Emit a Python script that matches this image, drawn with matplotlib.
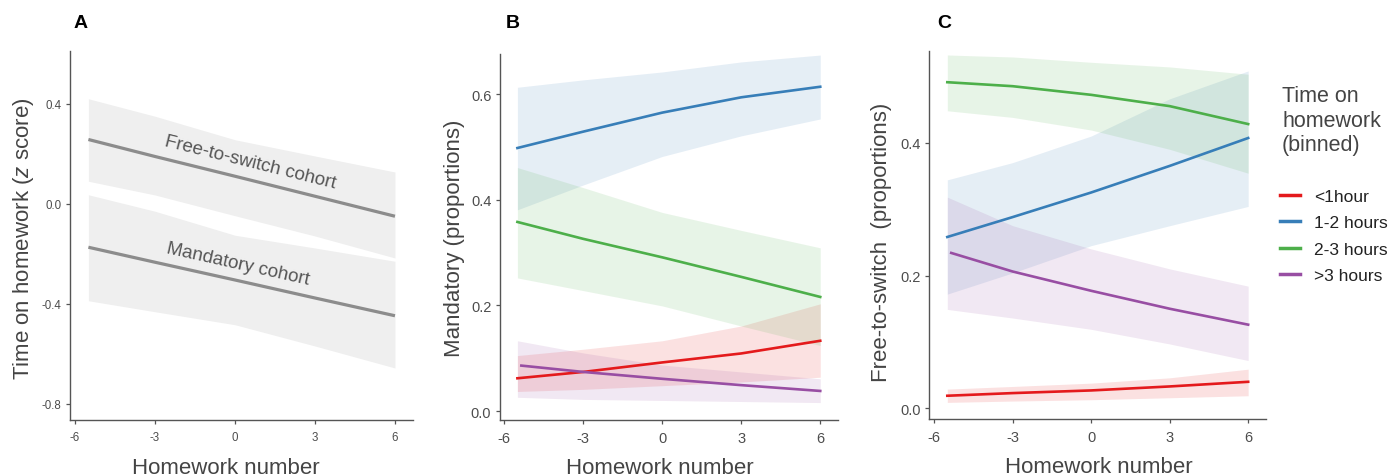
import numpy as np
import matplotlib
matplotlib.use("Agg")
import matplotlib.pyplot as plt
from matplotlib.lines import Line2D

plt.rcParams['font.family'] = ['Liberation Sans', 'DejaVu Sans']
plt.rcParams['axes.unicode_minus'] = False
plt.rcParams['mathtext.fontset'] = 'custom'
plt.rcParams['mathtext.it'] = 'Liberation Sans:italic'
plt.rcParams['mathtext.rm'] = 'Liberation Sans'

# homework number (centred)
hw = [-5.5, -3, 0, 3, 6]
hw_purple = [-5.35, -3, 0, 3, 6]

# panel A: z-scored time on homework per cohort
free_fit = [0.258, 0.19, 0.111, 0.031, -0.049]
free_lo = [0.091, 0.036, -0.047, -0.128, -0.216]
free_hi = [0.421, 0.351, 0.257, 0.192, 0.128]
mand_fit = [-0.173, -0.233, -0.304, -0.376, -0.447]
mand_lo = [-0.387, -0.431, -0.483, -0.568, -0.656]
mand_hi = [0.037, -0.029, -0.125, -0.176, -0.229]

# panel B: mandatory cohort, proportions per bin
b_red = [0.062, 0.074, 0.092, 0.109, 0.133]
b_red_lo = [0.037, 0.041, 0.048, 0.055, 0.064]
b_red_hi = [0.105, 0.117, 0.133, 0.161, 0.203]
b_blue = [0.498, 0.529, 0.565, 0.594, 0.614]
b_blue_lo = [0.381, 0.428, 0.482, 0.521, 0.553]
b_blue_hi = [0.613, 0.627, 0.642, 0.661, 0.674]
b_green = [0.358, 0.326, 0.291, 0.254, 0.216]
b_green_lo = [0.252, 0.228, 0.199, 0.161, 0.124]
b_green_hi = [0.461, 0.423, 0.376, 0.342, 0.309]
b_purple = [0.086, 0.074, 0.061, 0.049, 0.038]
b_purple_lo = [0.026, 0.022, 0.020, 0.018, 0.016]
b_purple_hi = [0.133, 0.110, 0.087, 0.074, 0.061]

# panel C: free-to-switch cohort
c_red = [0.019, 0.023, 0.027, 0.033, 0.040]
c_red_lo = [0.009, 0.011, 0.013, 0.016, 0.019]
c_red_hi = [0.029, 0.033, 0.038, 0.046, 0.059]
c_blue = [0.258, 0.288, 0.325, 0.365, 0.407]
c_blue_lo = [0.172, 0.204, 0.245, 0.275, 0.304]
c_blue_hi = [0.344, 0.370, 0.410, 0.466, 0.508]
c_green = [0.491, 0.485, 0.472, 0.455, 0.428]
c_green_lo = [0.448, 0.438, 0.419, 0.390, 0.354]
c_green_hi = [0.532, 0.529, 0.521, 0.514, 0.503]
c_purple = [0.234, 0.206, 0.177, 0.150, 0.126]
c_purple_lo = [0.149, 0.136, 0.119, 0.097, 0.072]
c_purple_hi = [0.318, 0.275, 0.240, 0.210, 0.184]

bins = ['<1hour', '1-2 hours', '2-3 hours', '>3 hours']
colors = ['#E41A1C', '#377EB8', '#4DAF4A', '#984EA3']

xticks = [-6, -3, 0, 3, 6]
axcol = '#555555'
txtcol = '#4d4d4d'

fig = plt.figure(figsize=(13.93, 4.77), dpi=100)
axA = fig.add_axes([0.05025, 0.1174, 0.2462, 0.7736])
axB = fig.add_axes([0.3589, 0.1174, 0.2426, 0.7673])
axC = fig.add_axes([0.6669, 0.1195, 0.2419, 0.7715])


def style(ax, tsize):
    for s in ['top', 'right']:
        ax.spines[s].set_visible(False)
    for s in ['left', 'bottom']:
        ax.spines[s].set_color(axcol)
        ax.spines[s].set_linewidth(1.0)
    ax.tick_params(colors=axcol, labelcolor=txtcol, labelsize=tsize,
                   length=3.2, width=0.9, pad=3)
    ax.tick_params(axis='x', pad=5)
    ax.set_xticks(xticks)
    ax.set_xlabel('Homework number', fontsize=16, color='#444444')


# ---- panel A
axA.fill_between(hw, free_lo, free_hi, color='#efefef', lw=0)
axA.fill_between(hw, mand_lo, mand_hi, color='#efefef', lw=0)
axA.plot(hw, free_fit, color='#8c8c8c', lw=2.3, solid_capstyle='butt')
axA.plot(hw, mand_fit, color='#8c8c8c', lw=2.3, solid_capstyle='butt')
axA.text(0.56, 0.168, 'Free-to-switch cohort', rotation=-14, fontsize=13.5,
         color='#555555', ha='center', va='center', rotation_mode='anchor')
axA.text(0.11, -0.24, 'Mandatory cohort', rotation=-12.6, fontsize=13.5,
         color='#555555', ha='center', va='center', rotation_mode='anchor')
axA.set_xlim(-6.19, 6.675)
axA.set_ylim(-0.864, 0.612)
axA.set_yticks([-0.8, -0.4, 0.0, 0.4])
axA.set_yticklabels(['-0.8', '-0.4', '0.0', '0.4'])
style(axA, 8.3)
axA.set_ylabel(r'Time on homework ($\it{z}$ score)', fontsize=16, color='#444444')
axA.yaxis.set_label_coords(-0.098, 0.493)
axA.xaxis.set_label_coords(0.455, -0.1)

# ---- panels B and C
b_sets = [(hw, b_red, b_red_lo, b_red_hi), (hw, b_blue, b_blue_lo, b_blue_hi),
          (hw, b_green, b_green_lo, b_green_hi), (hw_purple, b_purple, b_purple_lo, b_purple_hi)]
c_sets = [(hw, c_red, c_red_lo, c_red_hi), (hw, c_blue, c_blue_lo, c_blue_hi),
          (hw, c_green, c_green_lo, c_green_hi), (hw_purple, c_purple, c_purple_lo, c_purple_hi)]

for ax, sets in [(axB, b_sets), (axC, c_sets)]:
    for (xl, fit, lo, hi), col in zip(sets, colors):
        ax.fill_between(hw, lo, hi, color=col, alpha=0.13, lw=0)
    for (xl, fit, lo, hi), col in zip(sets, colors):
        ax.plot(xl, fit, color=col, lw=1.9)

axB.set_xlim(-6.163, 6.67)
axB.set_ylim(-0.017, 0.676)
axB.set_yticks([0.0, 0.2, 0.4, 0.6])
axB.set_yticklabels(['0.0', '0.2', '0.4', '0.6'])
style(axB, 10.5)
axB.set_ylabel('Mandatory (proportions)', fontsize=16, color='#444444')
axB.yaxis.set_label_coords(-0.104, 0.5)
axB.xaxis.set_label_coords(0.473, -0.1)

axC.set_xlim(-6.2, 6.68)
axC.set_ylim(-0.016, 0.538)
axC.set_yticks([0.0, 0.2, 0.4])
axC.set_yticklabels(['0.0', '0.2', '0.4'])
style(axC, 10.5)
axC.set_ylabel('Free-to-switch  (proportions)', fontsize=16, color='#444444')
axC.yaxis.set_label_coords(-0.11, 0.484)
axC.xaxis.set_label_coords(0.505, -0.1)

# panel letters
for lbl, px in [('A', 81), ('B', 513), ('C', 944)]:
    fig.text(px / 1393, 1 - 24 / 477, lbl, fontsize=14, fontweight='bold',
             ha='center', va='center', color='black')

# legend
fig.text(1282 / 1393, 1 - 86 / 477, 'Time on\nhomework\n(binned)', fontsize=15.5,
         color='#444444', ha='left', va='top', linespacing=1.22)
handles = [Line2D([0], [0], color=c, lw=2.5) for c in colors]
fig.legend(handles, bins, loc='upper left', bbox_to_anchor=(1273 / 1393, 1 - 183 / 477),
           frameon=False, fontsize=12.5, handlelength=1.15, handletextpad=0.8,
           labelspacing=0.64, borderaxespad=0, labelcolor='#222222')

fig.savefig('out.png', dpi=100)
